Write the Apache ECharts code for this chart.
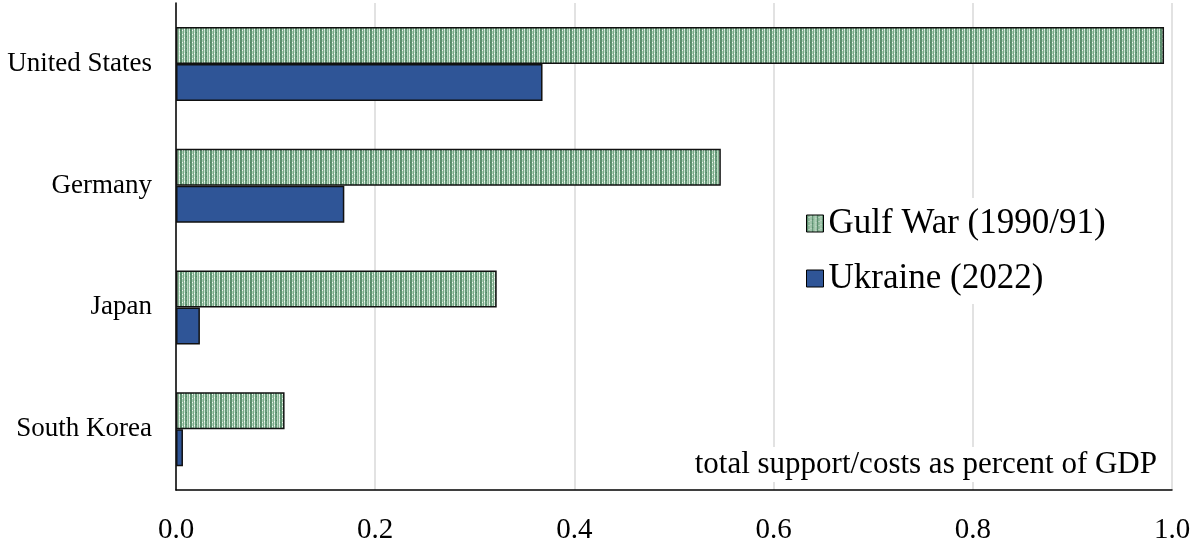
<!DOCTYPE html>
<html><head><meta charset="utf-8">
<script src="https://cdn.jsdelivr.net/npm/echarts@6/dist/echarts.min.js"></script>
<style>html,body{margin:0;padding:0;background:#fff}#c{width:1194px;height:543px}</style>
</head><body><div id="c"></div>
<script>
var categories = ['United States', 'Germany', 'Japan', 'South Korea'];
var gulfWar = [0.992, 0.547, 0.322, 0.109];
var ukraine = [0.368, 0.169, 0.024, 0.007];
var xTicks = [0, 0.2, 0.4, 0.6, 0.8, 1.0];

function makePattern() {
  var c = document.createElement('canvas');
  c.width = 10; c.height = 4;
  var g = c.getContext('2d');
  var cols = ['#5e9170', '#5e9170', '#a8cdb2', '#7aaa88', '#c9e2cf', '#66987a', '#6a9c7c', '#b9d9c1', '#84b392', '#d5ebdb'];
  for (var i = 0; i < 10; i++) { g.fillStyle = cols[i]; g.fillRect(i, 0, 1, 4); }
  g.fillStyle = '#f0f8f1'; g.fillRect(4, 1, 1, 1); g.fillRect(9, 3, 1, 1); g.fillRect(2, 2, 1, 1);
  g.fillStyle = '#4f8462'; g.fillRect(0, 2, 1, 1); g.fillRect(6, 0, 1, 1);
  return c;
}
var pat = {image: makePattern(), repeat: 'repeat'};

var chart = echarts.init(document.getElementById('c'));
var font = 'Liberation Serif';
chart.setOption({
  animation: false,
  textStyle: {fontFamily: font},
  grid: {left: 176, right: 22, top: 3, bottom: 53, outerBoundsMode: 'none', containLabel: false},
  legend: {
    orient: 'vertical', left: 790, top: 198, itemGap: 20,
    padding: [8, 16, 8, 16], backgroundColor: '#fff',
    itemWidth: 17, itemHeight: 17, icon: 'rect',
    textStyle: {fontFamily: font, fontSize: 35, color: '#000'},
    data: [
      {name: 'Gulf War (1990/91)', itemStyle: {color: pat, borderColor: '#000', borderWidth: 1}},
      {name: 'Ukraine (2022)', itemStyle: {color: '#2f5597', borderColor: '#000', borderWidth: 1}}
    ]
  },
  xAxis: {
    type: 'value', min: 0, max: 1, interval: 0.2,
    axisLine: {show: true, lineStyle: {color: '#000', width: 1.5}},
    axisTick: {show: false},
    splitLine: {lineStyle: {color: '#d9d9d9', width: 1.5}},
    axisLabel: {fontFamily: font, fontSize: 29, color: '#000', margin: 26,
      formatter: function (v) { return v.toFixed(1); }}
  },
  yAxis: {
    type: 'category', data: categories, inverse: true,
    axisLine: {show: true, lineStyle: {color: '#000', width: 1.5}},
    axisTick: {show: false},
    axisLabel: {fontFamily: font, fontSize: 27, color: '#000', margin: 24}
  },
  graphic: [{
    type: 'text', right: 33, top: 447, z: 10,
    style: {text: 'total support/costs as percent of GDP', font: '31px "Liberation Serif"', fill: '#000',
      backgroundColor: '#fff', padding: [2, 4, 2, 4]}
  }],
  series: [
    {name: 'Gulf War (1990/91)', type: 'bar', data: gulfWar, barWidth: 37, barGap: '0%',
      itemStyle: {color: pat, borderColor: '#111', borderWidth: 1.5}},
    {name: 'Ukraine (2022)', type: 'bar', data: ukraine, barWidth: 37, barGap: '0%',
      itemStyle: {color: '#2f5597', borderColor: '#111', borderWidth: 1.5}}
  ]
});
</script></body></html>
